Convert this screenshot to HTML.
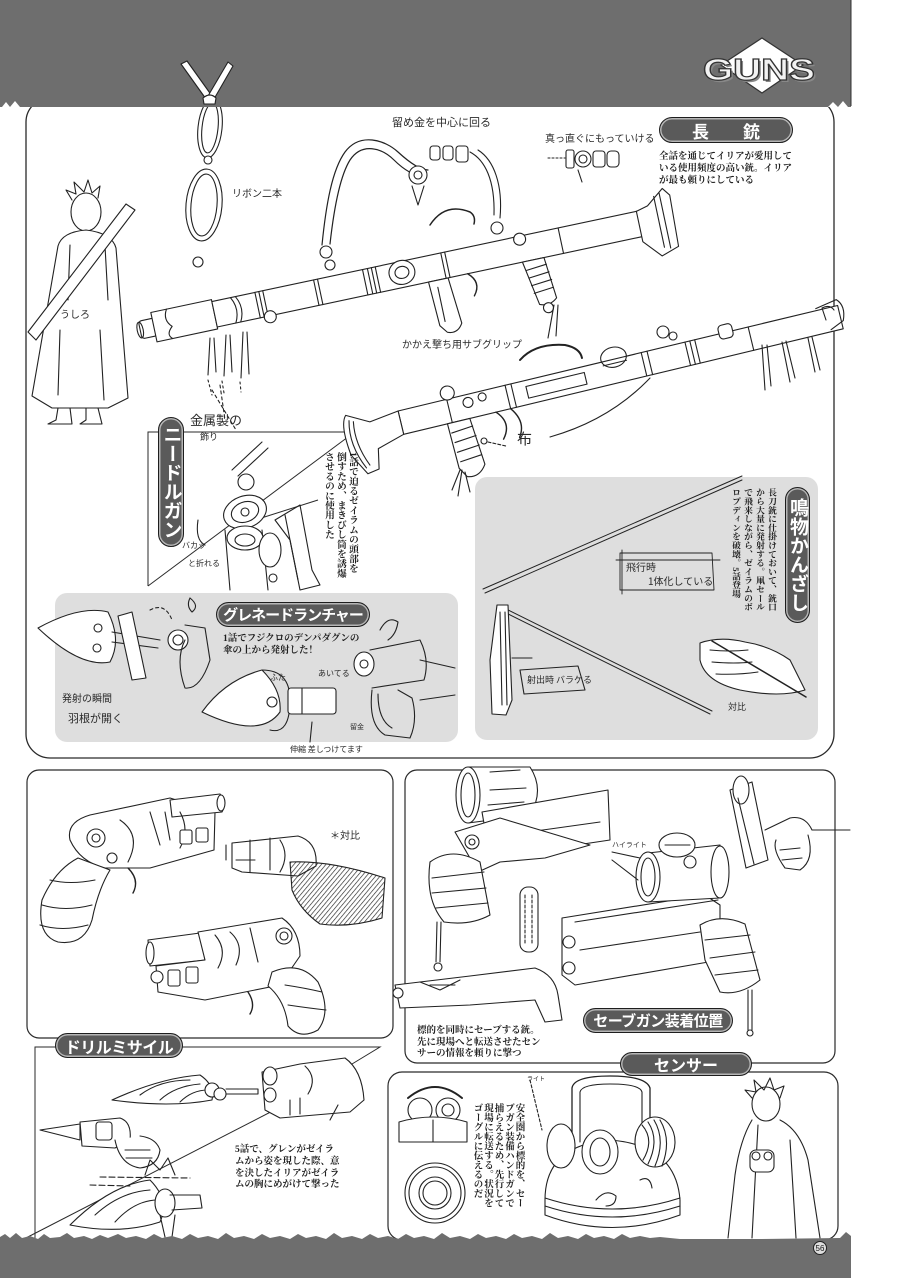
<!DOCTYPE html>
<html><head><meta charset="utf-8">
<style>
html,body{margin:0;padding:0;background:#fff;}
#pg{position:relative;width:904px;height:1280px;overflow:hidden;background:#fff;font-family:"Liberation Sans","Noto Sans CJK JP",sans-serif;}
svg{position:absolute;left:0;top:0;}
.t{position:absolute;color:#1e1e1e;font-family:"Liberation Serif","Noto Serif CJK SC",serif;font-weight:bold;font-size:9.5px;line-height:12px;white-space:nowrap;}
.v{writing-mode:vertical-rl;}
.pill{position:absolute;box-sizing:border-box;background:#5a5a5a;border:1.5px solid #1e1e1e;border-radius:14px;color:#fff;font-family:"Liberation Sans","Noto Sans CJK JP",sans-serif;font-weight:bold;display:flex;align-items:center;justify-content:center;box-shadow:inset 0 0 0 1.5px #b5b5b5;white-space:nowrap;}
.h{position:absolute;font-family:"WenQuanYi Zen Hei","Noto Sans CJK JP",sans-serif;font-size:10px;color:#2a2a2a;white-space:nowrap;}
</style></head>
<body><div id="pg">
<svg width="904" height="1280" viewBox="0 0 904 1280">
<defs>
<pattern id="hatch" width="3.5" height="3.5" patternUnits="userSpaceOnUse" patternTransform="rotate(40)">
<line x1="0" y1="0" x2="0" y2="3.5" stroke="#222" stroke-width="1.3"/>
</pattern>
</defs>

<!-- main panel -->
<rect x="26" y="98" width="808" height="660" rx="24" fill="#fff" stroke="#2a2a2a" stroke-width="1.3"/>
<rect x="55" y="593" width="403" height="149" rx="12" fill="#dedede"/>
<rect x="475" y="477" width="343" height="263" rx="12" fill="#dedede"/>

<!-- bottom panels -->
<rect x="27" y="770" width="366" height="268" rx="12" fill="#fff" stroke="#2a2a2a" stroke-width="1.2"/>
<rect x="405" y="770" width="430" height="293" rx="12" fill="#fff" stroke="#2a2a2a" stroke-width="1.2"/>
<rect x="388" y="1072" width="450" height="168" rx="14" fill="#fff" stroke="#2a2a2a" stroke-width="1.2"/>

<!-- drill section lines -->
<g stroke="#2a2a2a" stroke-width="1" fill="none">
<path d="M35,1240 V1047 H380 L352,1064"/>
<line x1="22" y1="1240" x2="290" y2="1102"/>
<path d="M148,586 V432 H355"/>
<line x1="148" y1="586" x2="356" y2="431"/>
<line x1="255" y1="520" x2="318" y2="500"/>
</g>

<g stroke="#222" stroke-width="1.1" fill="#fff" stroke-linejoin="round" stroke-linecap="round">

<!-- character back view -->
<ellipse cx="86" cy="212" rx="15" ry="19"/>
<path d="M72,200 L66,190 L76,194 L74,182 L84,192 L88,180 L92,193 L100,186 L98,198" fill="none"/>
<path d="M58,246 Q62,232 86,230 Q112,233 116,248 L128,398 L108,408 L52,408 L32,396 Z"/>
<path d="M70,245 L68,300 M105,246 L108,300 M60,330 L58,395 M100,330 L104,400" fill="none"/>
<path d="M28,332 L126,204 L135,210 L36,340 Z"/>
<path d="M58,408 L56,420 L48,424 L72,424 L70,408 M86,408 L86,420 L80,424 L102,424 L98,408" fill="none"/>

<!-- goggles lenses -->
<ellipse cx="210" cy="128" rx="12" ry="30" transform="rotate(6 210 128)"/>
<ellipse cx="210" cy="128" rx="8" ry="25" transform="rotate(6 210 128)" fill="none"/>
<ellipse cx="204" cy="205" rx="18" ry="36" transform="rotate(5 204 205)"/>
<ellipse cx="204" cy="205" rx="13" ry="31" transform="rotate(5 204 205)" fill="none"/>
<circle cx="198" cy="262" r="5"/>
<circle cx="208" cy="160" r="4"/>

<!-- strap rifle 1 -->
<path d="M322,245 C326,205 332,170 345,152 C360,132 385,140 398,152 C410,163 420,170 428,170" fill="none" stroke-width="1.2"/>
<path d="M330,244 C334,208 340,176 350,160 C362,142 382,148 394,160 C404,170 414,176 426,178" fill="none" stroke-width="1.2"/>
<circle cx="418" cy="175" r="9"/><circle cx="418" cy="175" r="4" fill="none"/>
<path d="M412,186 L418,205 L424,186" fill="none"/>
<rect x="430" y="146" width="10" height="14" rx="3"/><rect x="443" y="146" width="10" height="14" rx="3"/><rect x="456" y="146" width="12" height="16" rx="3"/>
<path d="M470,152 C485,160 495,180 494,215 M478,150 C494,160 503,185 500,218" fill="none"/>
<circle cx="497" cy="228" r="6"/>
<circle cx="326" cy="252" r="6"/><circle cx="330" cy="265" r="5"/>
<path d="M430,225 Q445,202 470,212 Q476,216 474,224" fill="none" stroke-width="1.5"/>

<!-- rifle 1 -->
<g transform="translate(150,328) rotate(-12)">
<rect x="-10" y="-9" width="16" height="18" rx="3"/>
<ellipse cx="-10" cy="0" rx="3" ry="8" fill="none"/>
<path d="M4,-15 H66 V15 H4 Z"/>
<path d="M20,-15 Q14,-5 22,3 Q14,10 20,15" fill="none"/>
<rect x="66" y="-13" width="436" height="26"/>
<path d="M85,-13 Q92,0 85,13 M90,-13 Q97,0 90,13 M110,-13 V13 M114,-13 V13 M118,-13 V13 M170,-13 V13 M174,-13 V13 M220,-13 V13 M225,-13 V13 M229,-13 V13 M233,-13 V13 M300,-13 V13 M304,-13 V13 M420,-13 V13" fill="none"/>
<ellipse cx="258" cy="-2" rx="13" ry="12"/>
<ellipse cx="258" cy="-2" rx="7" ry="6" fill="none"/>
<circle cx="120" cy="14" r="6"/>
<circle cx="380" cy="-10" r="6"/>
<path d="M500,-13 L512,-16 L530,-30 L536,-22 L534,30 L516,36 L500,18 L500,13 Z"/>
<path d="M520,-24 V28 M526,-26 V30" fill="none"/>
<path d="M282,13 L302,13 L306,60 Q300,70 290,66 L284,58 Z"/>
<path d="M290,20 V55" fill="none"/>
<path d="M322,13 Q334,24 324,36" fill="none" stroke-width="1.4"/>
<path d="M378,13 L400,13 L404,55 Q396,62 386,58 Z"/>
<path d="M380,22 L401,20 M381,30 L402,28 M382,38 L403,36 M383,46 L403,44" fill="none"/>
<circle cx="394" cy="63" r="5"/>
</g>
<path d="M210,338 L208,375 M214,338 L216,372 M226,335 L224,376 M230,335 L232,372 M243,332 L241,378 M247,332 L249,374 M554,305 L548,338 M558,305 L556,336" fill="none"/>
<path d="M208,380 L212,395 M222,381 L224,393 M240,382 L241,392" fill="none" stroke-dasharray="2,3"/>
<path d="M220,385 L225,420 M212,390 L236,430" fill="none" stroke-dasharray="3,3"/>

<!-- small parts top right -->
<path d="M548,158 H565" fill="none" stroke-dasharray="2,2"/>
<rect x="566" y="150" width="8" height="18" rx="2"/>
<circle cx="583" cy="159" r="8"/><circle cx="583" cy="159" r="4" fill="none"/>
<rect x="593" y="151" width="12" height="16" rx="3"/>
<rect x="607" y="151" width="12" height="16" rx="4"/>
<path d="M578,170 L582,182" fill="none"/>

<!-- rifle 2 -->
<g transform="translate(362,432) rotate(-13.5)">
<rect x="40" y="-12" width="452" height="24"/>
<path d="M40,-12 L10,-8 L-12,-20 Q-20,-12 -16,20 L-4,42 L8,40 L12,20 L40,12 Z"/>
<path d="M-10,-14 Q-16,10 -4,36 M-6,-12 Q-10,10 0,34" fill="none"/>
<path d="M90,-12 V12 M150,-12 V12 M156,-12 V12 M290,-12 V12 M296,-12 V12 M335,-12 V12 M340,-12 V12 M345,-12 V12 M400,-12 V12" fill="none"/>
<rect x="170" y="-6" width="60" height="12" fill="none"/>
<circle cx="110" cy="-4" r="5"/><circle cx="125" cy="-6" r="4"/>
<circle cx="92" cy="-18" r="7"/>
<path d="M85,12 L108,12 L112,60 Q104,72 92,68 L86,58 Z"/>
<path d="M87,22 L109,20 M88,32 L110,30 M88,42 L111,40 M89,52 L111,50" fill="none"/>
<path d="M135,12 Q148,26 136,40 M150,12 Q162,28 152,42" fill="none" stroke-width="1.4"/>
<ellipse cx="262" cy="-14" rx="13" ry="10"/>
<path d="M249,-12 H275 M250,-8 H274" fill="none"/>
<rect x="370" y="-20" width="14" height="14" rx="4"/>
<path d="M470,-14 L492,-18 Q500,-10 494,4 L480,10" fill="none"/>
</g>
<path d="M520,360 Q535,343 565,345 Q580,348 582,358" fill="none" stroke-width="2"/>
<circle cx="663" cy="332" r="6"/><circle cx="673" cy="336" r="4"/>
<path d="M762,345 L765,390 M767,345 L771,386 M782,342 L790,382 M786,341 L795,378 M808,338 L815,372 M812,337 L820,370" fill="none"/>
<path d="M826,320 L822,308 Q830,304 834,310" fill="none"/>
<path d="M550,437 Q610,420 650,378" fill="none"/>
<circle cx="484" cy="441" r="3"/>
<path d="M488,442 L506,446" fill="none" stroke-dasharray="3,2"/>
<path d="M460,470 L452,490 M465,472 L470,492 M462,470 L458,496" fill="none"/>

<!-- needle gun mechanism -->
<path d="M232,470 L262,442 M238,476 L268,448" fill="none"/>
<circle cx="246" cy="482" r="8"/>
<ellipse cx="245" cy="512" rx="22" ry="16" transform="rotate(-20 245 512)"/>
<ellipse cx="245" cy="512" rx="14" ry="10" transform="rotate(-20 245 512)" fill="none"/>
<circle cx="245" cy="512" r="4" fill="none"/>
<path d="M225,530 L230,590 M262,530 L268,590" fill="none"/>
<ellipse cx="245" cy="538" rx="18" ry="12"/>
<ellipse cx="245" cy="540" rx="10" ry="6" fill="none"/>
<ellipse cx="270" cy="550" rx="11" ry="17"/>
<circle cx="273" cy="578" r="4"/>
<path d="M275,520 L300,505 L312,570 L320,585 L300,590 L290,540 Z" fill="none"/>
<path d="M285,515 L298,580" fill="none"/>
<path d="M198,520 Q195,540 205,545" fill="none"/>

<!-- grenade launcher sketches -->
<path d="M38,628 Q80,605 108,612 Q122,640 110,662 Q80,668 38,628 Z"/>
<circle cx="98" cy="628" r="4" fill="none"/><circle cx="97" cy="648" r="4" fill="none"/>
<path d="M112,632 L160,640 M112,642 L158,648" fill="none"/>
<path d="M118,616 L132,612 L146,678 L132,680 Z"/>
<path d="M150,610 Q165,602 172,620" fill="none" stroke-dasharray="3,3"/>
<circle cx="178" cy="640" r="10"/><circle cx="178" cy="640" r="5" fill="none"/>
<path d="M185,625 L205,628 L210,660 Q200,690 185,688 Q175,660 185,640" fill="none"/>
<path d="M190,598 Q186,606 192,612 Q200,606 190,598" fill="none"/>
<path d="M202,712 Q225,680 262,670 Q282,690 280,712 Q260,740 202,712 Z"/>
<path d="M262,670 Q290,670 290,700 Q290,735 270,730" fill="none"/>
<circle cx="272" cy="702" r="5"/>
<rect x="288" y="688" width="48" height="26" rx="3"/>
<path d="M302,688 V714" fill="none"/>
<path d="M312,722 L310,742" fill="none"/>
<ellipse cx="364" cy="664" rx="10" ry="12"/>
<circle cx="364" cy="664" r="4" fill="none"/>
<path d="M370,650 L420,640 Q430,660 424,680 L372,688" fill="none"/>
<path d="M380,630 Q388,615 398,622 Q396,635 388,640" fill="none"/>
<path d="M372,690 Q368,725 385,735 L410,738 Q418,720 412,698 L398,690" fill="none"/>
<path d="M378,694 Q378,720 392,728" fill="none"/>
<path d="M420,660 L455,668 M420,700 L455,695" fill="none"/>

<!-- kanzashi -->
<path d="M483,589 L742,476 M485,593 L742,480" fill="none" stroke-width="1"/>
<path d="M500,606 L712,711 M500,610 L710,714" fill="none" stroke-width="1"/>
<path d="M497,605 L508,605 L512,700 L506,715 L492,714 L490,660 Z"/>
<path d="M500,612 L502,705 M505,612 L507,705" fill="none"/>
<path d="M512,658 L532,658 M520,670 L578,666 L585,690 L524,694 Z" fill="none"/>
<path d="M620,553 H712 L714,590 H620 Z M616,560 H720 M622,550 V594" fill="none" stroke-width="0.9"/>
<path d="M700,643 Q720,636 745,642 Q770,646 790,660 L805,690 Q780,698 740,690 Q705,682 700,660 Z"/>
<path d="M710,650 Q730,652 748,650 M712,662 Q735,664 752,662 M716,674 Q738,675 758,672" fill="none"/>
<path d="M712,641 L806,697" fill="none" stroke-width="1.5"/>

<!-- bottom-left revolvers -->
<path d="M70,840 Q66,822 90,815 L170,798 L215,812 L214,850 L150,868 L105,868 Q80,862 70,840 Z"/>
<path d="M170,800 L220,794 Q227,803 222,812 L172,817 Z"/>
<ellipse cx="221" cy="803" rx="4" ry="8"/>
<path d="M120,820 Q142,835 128,862 M150,812 L160,845 M165,812 L170,840 M180,812 Q190,830 180,848" fill="none"/>
<rect x="180" y="830" width="12" height="14" rx="2"/><rect x="196" y="828" width="12" height="14" rx="2"/>
<circle cx="96" cy="838" r="9"/><circle cx="96" cy="838" r="4" fill="none"/>
<circle cx="112" cy="858" r="5"/>
<path d="M78,858 Q55,870 42,900 Q36,935 58,942 Q84,946 92,920 Q98,890 110,870 Z"/>
<path d="M50,880 Q70,885 95,880 M42,905 Q65,912 92,905 M40,925 Q62,932 88,925" fill="none"/>
<path d="M128,868 Q140,880 133,893" fill="none" stroke-width="1.4"/>
<path d="M232,843 L298,836 Q318,842 316,866 L298,876 L242,872 L232,868 Z"/>
<path d="M250,840 V872 M270,838 V870 M280,840 Q290,855 280,872" fill="none"/>
<path d="M226,845 V860 M236,860 H255" fill="none"/>
<path d="M290,862 Q330,860 385,878 L382,918 Q350,928 320,924 Q300,910 292,890 Z" fill="url(#hatch)"/>
<path d="M148,940 L200,933 L205,960 L150,966 Z"/>
<ellipse cx="150" cy="953" rx="4" ry="11"/>
<path d="M198,932 L282,918 Q300,930 300,956 L280,985 L205,1000 L158,992 L156,966 L205,960 Z"/>
<path d="M215,935 Q228,950 218,968 M230,932 Q245,945 236,965 M250,928 L258,962" fill="none"/>
<rect x="168" y="970" width="12" height="16" rx="2"/><rect x="186" y="967" width="12" height="16" rx="2"/>
<circle cx="157" cy="977" r="6"/>
<circle cx="284" cy="936" r="8"/><circle cx="284" cy="936" r="4" fill="none"/>
<path d="M272,972 Q300,960 318,982 Q332,1012 318,1030 Q300,1040 288,1026 Q285,1000 268,986 Z"/>
<path d="M285,985 Q305,988 322,992 M288,1005 Q308,1008 326,1010" fill="none"/>
<path d="M248,992 Q256,1004 250,1014" fill="none" stroke-width="1.4"/>

<!-- bottom-right guns -->
<path d="M468,767 L530,767 Q545,790 530,815 L468,823 Z"/>
<ellipse cx="468" cy="795" rx="12" ry="28"/>
<ellipse cx="468" cy="795" rx="7" ry="22" fill="none"/>
<path d="M490,772 L520,770 M490,790 L526,788 M488,805 L524,802" fill="none"/>
<path d="M482,812 L608,790 L610,840 L490,858 Z"/>
<path d="M500,836 L600,822" fill="none"/>
<path d="M455,832 L500,818 L540,830 L590,845 L545,858 L500,862 L478,872 Z"/>
<circle cx="472" cy="842" r="7"/><circle cx="472" cy="842" r="3" fill="none"/>
<path d="M430,862 Q452,846 480,862 L490,915 Q470,926 444,922 Q425,900 430,862 Z"/>
<path d="M432,878 L484,872 M432,893 L486,888 M436,908 L488,903" fill="none"/>
<path d="M437,922 L436,962 M441,922 L440,962" fill="none"/>
<circle cx="438" cy="967" r="4"/>
<rect x="520" y="887" width="18" height="65" rx="8"/>
<path d="M525,895 V945 M532,895 V945" fill="none" stroke-dasharray="3,2"/>
<path d="M395,985 L470,976 L535,968 Q555,975 558,995 L562,1020 L545,1022 L535,1000 L470,1005 L400,1008 Z"/>
<circle cx="398" cy="993" r="5"/>
<path d="M420,982 L440,990 L460,980 M430,985 H455" fill="none"/>
<path d="M562,918 L705,895 L720,905 L720,960 L575,985 L562,975 Z"/>
<path d="M575,922 L718,900 M580,950 L700,932" fill="none"/>
<circle cx="569" cy="942" r="6"/><circle cx="569" cy="968" r="6"/>
<path d="M648,853 L720,845 L720,898 L648,902 Z"/>
<ellipse cx="648" cy="877" rx="12" ry="25"/>
<ellipse cx="648" cy="877" rx="7" ry="19" fill="none"/>
<ellipse cx="720" cy="872" rx="9" ry="26"/>
<ellipse cx="677" cy="845" rx="18" ry="12"/>
<path d="M665,845 L690,845" fill="none"/>
<circle cx="690" cy="862" r="6"/>
<path d="M700,925 Q720,913 745,924 L760,980 Q740,996 720,992 L705,960 Z"/>
<path d="M705,940 L750,935 M710,958 L755,952 M715,975 L758,970" fill="none"/>
<path d="M748,990 L748,1030 M752,990 L752,1030" fill="none"/>
<circle cx="750" cy="1033" r="3"/>
<path d="M612,852 L640,858 M612,860 L638,880" fill="none"/>
<path d="M730,790 L752,782 L768,860 L746,868 Z"/>
<ellipse cx="741" cy="790" rx="8" ry="14"/>
<path d="M738,798 L754,864" fill="none"/>
<path d="M765,830 L790,818 Q805,815 812,830 L850,830 M808,835 Q815,860 800,870 L785,868 Q772,850 776,840 M780,850 L800,848 M782,860 L802,858" fill="none"/>

<!-- drill missile -->
<path d="M112,1100 Q160,1078 200,1075 Q215,1085 212,1100 Q170,1108 112,1100 Z"/>
<path d="M140,1095 Q160,1080 190,1080 M160,1100 Q175,1086 200,1084 M180,1102 Q192,1090 208,1090" fill="none"/>
<circle cx="212" cy="1090" r="7"/><circle cx="220" cy="1094" r="6"/>
<path d="M226,1089 H258 V1094 H226" fill="none"/>
<path d="M262,1072 L300,1064 L345,1058 Q362,1070 364,1100 L350,1112 L280,1118 L265,1110 Z"/>
<ellipse cx="270" cy="1076" rx="7" ry="9"/><ellipse cx="270" cy="1095" rx="6" ry="7"/>
<path d="M305,1066 Q318,1078 308,1094 M290,1100 V1115 M300,1098 V1114" fill="none"/>
<path d="M338,1105 L330,1120" fill="none"/>
<path d="M40,1130 L80,1124 L80,1140 Z"/>
<path d="M80,1122 L120,1118 Q132,1122 130,1140 L115,1148 L82,1146 Z"/>
<rect x="96" y="1122" width="16" height="18" rx="3"/>
<path d="M115,1140 Q120,1165 140,1168 Q158,1166 160,1150 Q156,1138 140,1136" />
<path d="M125,1150 H150 M126,1158 H152" fill="none"/>
<path d="M70,1225 Q110,1185 150,1180 Q170,1200 160,1222 Q120,1235 70,1225 Z"/>
<path d="M95,1215 Q120,1192 150,1190 M115,1222 Q135,1200 158,1200" fill="none"/>
<ellipse cx="165" cy="1203" rx="10" ry="14"/>
<path d="M170,1195 L200,1195 L202,1208 L172,1210" fill="none"/>
<path d="M145,1175 L150,1160 L160,1170 L168,1158 L175,1175 M160,1215 L165,1237 M175,1215 L172,1237" fill="none"/>
<path d="M100,1177 L190,1178 M90,1185 L130,1186" fill="none" stroke-dasharray="6,3"/>

<!-- sensor section -->
<path d="M408,1098 Q435,1076 462,1098" fill="none" stroke-width="2"/>
<circle cx="420" cy="1110" r="12"/><circle cx="448" cy="1110" r="12"/>
<circle cx="448" cy="1110" r="6" fill="none"/>
<path d="M399,1122 Q433,1112 467,1122 L467,1142 H399 Z"/>
<path d="M433,1120 V1142" fill="none"/>
<circle cx="435" cy="1193" r="30"/><circle cx="435" cy="1193" r="26" fill="none"/>
<circle cx="435" cy="1193" r="16" fill="none"/><circle cx="435" cy="1193" r="12" fill="none"/>
<path d="M572,1142 V1088 Q574,1076 610,1076 Q646,1076 650,1088 V1142" fill="none" stroke-width="1.3"/>
<path d="M580,1142 V1092 Q582,1084 610,1084 Q640,1084 642,1092 V1142" fill="none"/>
<path d="M545,1200 Q545,1145 610,1140 Q676,1145 680,1200 L680,1215 Q612,1240 545,1215 Z"/>
<path d="M545,1198 Q612,1220 680,1198 M545,1206 Q612,1228 680,1206" fill="none"/>
<ellipse cx="561" cy="1146" rx="14" ry="22"/>
<ellipse cx="600" cy="1152" rx="18" ry="22"/><ellipse cx="600" cy="1152" rx="10" ry="14" fill="none"/>
<ellipse cx="655" cy="1142" rx="20" ry="25"/>
<path d="M642,1125 Q655,1140 643,1160 M648,1122 Q660,1140 648,1164 M654,1120 Q666,1140 655,1166 M660,1120 Q672,1140 662,1166" fill="none"/>
<path d="M596,1200 Q606,1188 616,1196 Q616,1206 606,1206 M640,1180 Q650,1175 652,1188" fill="none"/>
<path d="M530,1080 L542,1130" fill="none" stroke-dasharray="3,2"/>
<ellipse cx="766" cy="1104" rx="14" ry="17"/>
<path d="M752,1098 L745,1090 L756,1092 L754,1080 L764,1090 L770,1078 L774,1090 L784,1086 L780,1098" fill="none"/>
<path d="M752,1120 Q740,1140 735,1175 L728,1238 M780,1120 Q800,1130 808,1160 L820,1238 M758,1125 L752,1238 M790,1140 L796,1238" fill="none"/>
<rect x="750" y="1150" width="24" height="22" rx="6"/>
<circle cx="756" cy="1156" r="4" fill="none"/><circle cx="768" cy="1156" r="4" fill="none"/>
</g>

<!-- top band -->
<rect x="0" y="0" width="851" height="107" fill="#6e6e6e"/>
<path d="M2,107 L6,102 L10,107 L15,101 L20,107 Z M828,107 L833,102 L838,107 L843,101 L848,107 Z" fill="#fff"/>
<line x1="851" y1="0" x2="851" y2="106" stroke="#333" stroke-width="1"/>
<!-- goggle strap X over band -->
<g stroke="#222" stroke-width="1.1" fill="#fff" stroke-linejoin="round">
<path d="M181,64 L187,61 L212,96 L206,99 Z"/>
<path d="M228,62 L233,66 L214,99 L208,96 Z"/>
<path d="M203,98 Q210,92 216,98 L215,104 L204,104 Z"/>
</g>
<!-- GUNS logo -->
<polygon points="762,38 803,65 762,93 721,65" fill="#fff" stroke="#333" stroke-width="1.2"/>
<text x="761" y="82" text-anchor="middle" font-family="Liberation Sans, sans-serif" font-weight="bold" font-size="31" textLength="112" lengthAdjust="spacingAndGlyphs" fill="#888">GUNS</text>
<text x="759" y="80" text-anchor="middle" font-family="Liberation Sans, sans-serif" font-weight="bold" font-size="31" textLength="112" lengthAdjust="spacingAndGlyphs" fill="#f2f2f2" stroke="#333" stroke-width="1.2">GUNS</text>

<!-- bottom band -->
<path d="M0,1278 L0,1237 L5,1234 L10,1238 L16,1233 L22,1238 L30,1236 L38,1239 L44,1234 L50,1238 L60,1237 L67,1233 L74,1238 L84,1236 L92,1239 L100,1235 L108,1238 L118,1234 L126,1238 L136,1236 L146,1239 L154,1234 L162,1238 L172,1236 L182,1239 L190,1234 L198,1238 L208,1236 L218,1239 L226,1233 L234,1238 L244,1236 L254,1239 L262,1234 L270,1238 L280,1236 L290,1239 L298,1234 L306,1238 L316,1236 L326,1239 L334,1233 L342,1238 L352,1236 L362,1239 L370,1234 L378,1238 L388,1236 L398,1239 L406,1234 L414,1238 L424,1236 L434,1239 L442,1233 L450,1238 L460,1236 L470,1239 L478,1234 L486,1238 L496,1236 L506,1239 L514,1234 L522,1238 L532,1236 L542,1239 L550,1233 L558,1238 L568,1236 L578,1239 L586,1234 L594,1238 L604,1236 L614,1239 L622,1234 L630,1238 L640,1236 L650,1238 L660,1237 L680,1239 L760,1239 L840,1238 L846,1232 L851,1236 L851,1278 Z" fill="#6e6e6e"/>
<circle cx="820" cy="1248" r="6.5" fill="#ddd" stroke="#222" stroke-width="1"/>
<text x="820" y="1251" text-anchor="middle" font-family="Liberation Sans, sans-serif" font-size="8" fill="#111">56</text>
</svg>

<!-- pills -->
<div class="pill" style="left:659px;top:117px;width:134px;height:26px;font-size:17px;">長　　銃</div>
<div class="pill v" style="left:158px;top:417px;width:26px;height:130px;font-size:19px;border-radius:13px;">ニードルガン</div>
<div class="pill" style="left:216px;top:602px;width:154px;height:25px;font-size:15px;letter-spacing:-1px;">グレネードランチャー</div>
<div class="pill v" style="left:785px;top:487px;width:25px;height:136px;font-size:19px;border-radius:13px;">鳴物かんざし</div>
<div class="pill" style="left:583px;top:1008px;width:150px;height:25px;font-size:15px;letter-spacing:-0.5px;">セーブガン装着位置</div>
<div class="pill" style="left:620px;top:1052px;width:132px;height:24px;font-size:16px;">センサー</div>
<div class="pill" style="left:55px;top:1033px;width:128px;height:25px;font-size:16px;letter-spacing:-0.5px;">ドリルミサイル</div>

<!-- descriptions -->
<div class="t" style="left:659px;top:151px;">全話を通じてイリアが愛用して<br>いる使用頻度の高い銃。イリア<br>が最も頼りにしている</div>
<div class="t v" style="left:322px;top:452px;font-size:9.7px;line-height:12px;height:135px;">1話で迫るゼイラムの頭部を<br>倒すため、まきびし筒を誘爆<br>させるのに使用した</div>
<div class="t" style="left:223px;top:633px;">1話でフジクロのデンパダグンの<br>傘の上から発射した！</div>
<div class="t v" style="left:730px;top:488px;font-size:8.8px;line-height:12px;height:130px;">長刀銃に仕掛けておいて、銃口<br>から大量に発射する。凧セール<br>で飛来しながら、ゼイラムのボ<br>ロプディンを破壊。5話登場</div>
<div class="t" style="left:417px;top:1026px;line-height:11.5px;">標的を同時にセーブする銃。<br>先に現場へと転送させたセン<br>サーの情報を頼りに撃つ</div>
<div class="t" style="left:235px;top:1145px;line-height:11.8px;">5話で、グレンがゼイラ<br>ムから姿を現した際、意<br>を決したイリアがゼイラ<br>ムの胸にめがけて撃った</div>
<div class="t v" style="left:471px;top:1103px;font-size:9.5px;line-height:10.5px;height:115px;">安全圏から標的を、セー<br>ブガン装備ハンドガンで<br>捕らえるため、先行して<br>現場に転送する。状況を<br>ゴーグルに伝えるのだ</div>

<!-- handwritten notes -->
<div class="h" style="left:392px;top:114px;font-size:11px;">留め金を中心に回る</div>
<div class="h" style="left:545px;top:130px;font-size:10px;">真っ直ぐにもっていける</div>
<div class="h" style="left:232px;top:185px;font-size:10px;">リボン二本</div>
<div class="h" style="left:60px;top:306px;font-size:10px;">うしろ</div>
<div class="h" style="left:402px;top:336px;font-size:10px;">かかえ撃ち用サブグリップ</div>
<div class="h" style="left:517px;top:428px;font-size:15px;">布</div>
<div class="h" style="left:190px;top:410px;font-size:13px;">金属製の</div>
<div class="h" style="left:200px;top:430px;font-size:9px;">飾り</div>
<div class="h" style="left:182px;top:540px;font-size:8px;">バカッ</div>
<div class="h" style="left:188px;top:558px;font-size:8px;">と折れる</div>
<div class="h" style="left:62px;top:690px;font-size:10px;">発射の瞬間</div>
<div class="h" style="left:68px;top:710px;font-size:11px;">羽根が開く</div>
<div class="h" style="left:270px;top:672px;font-size:8px;">ふた</div>
<div class="h" style="left:318px;top:668px;font-size:8px;">あいてる</div>
<div class="h" style="left:290px;top:744px;font-size:8px;">伸縮 差しつけてます</div>
<div class="h" style="left:350px;top:722px;font-size:7px;">留金</div>
<div class="h" style="left:626px;top:559px;font-size:10px;">飛行時</div>
<div class="h" style="left:648px;top:573px;font-size:10px;">1体化している</div>
<div class="h" style="left:527px;top:673px;font-size:9px;">射出時 バラケる</div>
<div class="h" style="left:728px;top:700px;font-size:9px;">対比</div>
<div class="h" style="left:330px;top:827px;font-size:10px;">＊対比</div>
<div class="h" style="left:612px;top:840px;font-size:7px;">ハイライト</div>
<div class="h" style="left:527px;top:1074px;font-size:6px;">ライト</div>
</div></body></html>
